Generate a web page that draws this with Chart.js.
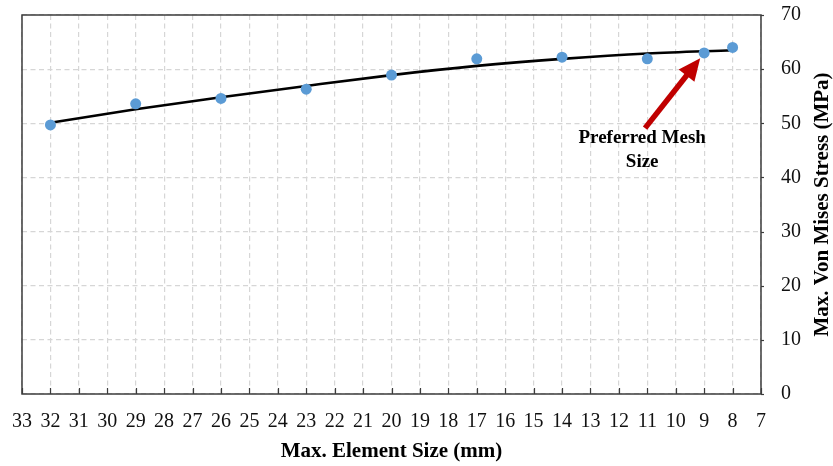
<!DOCTYPE html>
<html>
<head>
<meta charset="utf-8">
<script src="https://cdn.jsdelivr.net/npm/chart.js@4/dist/chart.umd.min.js"></script>
<style>
  html, body { margin: 0; padding: 0; background: #ffffff; }
  #wrap { width: 833px; height: 466px; }
</style>
</head>
<body>
<div id="wrap"><canvas id="c" width="833" height="466"></canvas></div>
<script>
// Mesh convergence study: peak stress against maximum element size
const elementSizes = [32, 29, 26, 23, 20, 17, 14, 11, 9, 8];
const vonMisesStress = [49.7, 53.6, 54.6, 56.3, 58.9, 61.9, 62.2, 61.9, 63.0, 64.0];

// Fitted trend curve, sampled along the x range
const trendSizes = [32, 29, 26, 23, 20, 17, 14, 11, 8];
const trendStress = [50.1, 52.6, 54.8, 56.9, 58.9, 60.6, 61.9, 62.9, 63.5];

// Axis ranges and labels
const xMin = 7, xMax = 33, xStep = 1;
const yMin = 0, yMax = 70, yStep = 10;
const xTitle = 'Max. Element Size (mm)';
const yTitle = 'Max. Von Mises Stress (MPa)';

// Callout pointing at the chosen mesh
const calloutLines = ['Preferred Mesh', 'Size'];
const calloutTextAt = [{ x: 11.18, y: 47.3 }, { x: 11.18, y: 42.85 }];
const arrowFrom = { x: 11.08, y: 49.1 };
const arrowTo = { x: 9.14, y: 62.0 };

const SERIF = '"Liberation Serif", "Times New Roman", Times, serif';

const toXY = (xs, ys) => xs.map((x, i) => ({ x: x, y: ys[i] }));

const frameAndNotes = {
  id: 'frameAndNotes',
  afterDraw(chart) {
    const { ctx, chartArea: a, scales } = chart;
    const xs = scales.x, ys = scales.y;
    ctx.save();

    // plot frame
    ctx.strokeStyle = '#3c3c3c';
    ctx.lineWidth = 1.5;
    ctx.strokeRect(a.left, a.top, a.right - a.left, a.bottom - a.top);

    // inner tick marks on the x axis
    ctx.lineWidth = 1.2;
    xs.ticks.forEach(t => {
      const px = Math.round(xs.getPixelForValue(t.value)) + 0.5;
      ctx.beginPath();
      ctx.moveTo(px, a.bottom);
      ctx.lineTo(px, a.bottom - 6);
      ctx.stroke();
    });
    // small outer tick marks on the right axis
    ys.ticks.forEach(t => {
      const py = Math.round(ys.getPixelForValue(t.value)) + 0.5;
      ctx.beginPath();
      ctx.moveTo(a.right, py);
      ctx.lineTo(a.right + 3, py);
      ctx.stroke();
    });

    // rotated y title on the right
    ctx.fillStyle = '#000000';
    ctx.font = 'bold 21px ' + SERIF;
    ctx.textAlign = 'center';
    ctx.textBaseline = 'middle';
    ctx.translate(823, (a.top + a.bottom) / 2);
    ctx.rotate(-Math.PI / 2);
    ctx.fillText(yTitle, 0, 0);
    ctx.setTransform(1, 0, 0, 1, 0, 0);

    // arrow
    const x0 = xs.getPixelForValue(arrowFrom.x), y0 = ys.getPixelForValue(arrowFrom.y);
    const x1 = xs.getPixelForValue(arrowTo.x), y1 = ys.getPixelForValue(arrowTo.y);
    const ang = Math.atan2(y1 - y0, x1 - x0);
    const headLen = 22, headHalf = 10;
    const bx = x1 - headLen * Math.cos(ang), by = y1 - headLen * Math.sin(ang);
    ctx.strokeStyle = '#C00000';
    ctx.fillStyle = '#C00000';
    ctx.lineWidth = 5.5;
    ctx.lineCap = 'butt';
    ctx.beginPath();
    ctx.moveTo(x0, y0);
    ctx.lineTo(bx + Math.cos(ang) * 2, by + Math.sin(ang) * 2);
    ctx.stroke();
    ctx.beginPath();
    ctx.moveTo(x1, y1);
    ctx.lineTo(bx + headHalf * Math.sin(ang), by - headHalf * Math.cos(ang));
    ctx.lineTo(bx - headHalf * Math.sin(ang), by + headHalf * Math.cos(ang));
    ctx.closePath();
    ctx.fill();

    // callout text
    ctx.fillStyle = '#000000';
    ctx.font = 'bold 19px ' + SERIF;
    ctx.textAlign = 'center';
    ctx.textBaseline = 'middle';
    calloutLines.forEach((line, i) => {
      ctx.fillText(line, xs.getPixelForValue(calloutTextAt[i].x), ys.getPixelForValue(calloutTextAt[i].y));
    });

    ctx.restore();
  }
};

const whiteBackground = {
  id: 'whiteBackground',
  beforeDraw(chart) {
    const ctx = chart.ctx;
    ctx.save();
    ctx.fillStyle = '#ffffff';
    ctx.fillRect(0, 0, chart.width, chart.height);
    ctx.restore();
  }
};

new Chart(document.getElementById('c'), {
  type: 'scatter',
  data: {
    datasets: [
      {
        label: 'Stress',
        data: toXY(elementSizes, vonMisesStress),
        backgroundColor: '#5B9BD5',
        borderColor: '#5B9BD5',
        pointRadius: 5.5,
        borderWidth: 0
      },
      {
        label: 'Trend',
        data: toXY(trendSizes, trendStress),
        showLine: true,
        borderColor: '#000000',
        borderWidth: 2.6,
        pointRadius: 0,
        fill: false,
        cubicInterpolationMode: 'monotone'
      }
    ]
  },
  options: {
    responsive: false,
    animation: false,
    devicePixelRatio: 1,
    layout: { padding: { left: 22, top: 15, right: 0, bottom: 0 } },
    plugins: { legend: { display: false }, tooltip: { enabled: false } },
    scales: {
      x: {
        type: 'linear',
        position: 'bottom',
        reverse: true,
        min: xMin,
        max: xMax,
        grid: { color: '#d6d6d6', lineWidth: 1.2, drawTicks: false, tickLength: 0 },
        border: { display: false, dash: [5, 3.5] },
        ticks: {
          stepSize: xStep,
          autoSkip: false,
          maxRotation: 0,
          padding: 16,
          color: '#111111',
          font: { family: SERIF, size: 20 }
        },
        title: {
          display: true,
          text: xTitle,
          color: '#000000',
          font: { family: SERIF, size: 21, weight: 'bold' },
          padding: { top: 0, bottom: 2 }
        },
        afterFit(s) {
          s.height = 72;
          s.paddingLeft = 0; s.paddingRight = 0; s.paddingTop = 0; s.paddingBottom = 0;
        }
      },
      y: {
        type: 'linear',
        position: 'right',
        min: yMin,
        max: yMax,
        grid: { color: '#d6d6d6', lineWidth: 1.2, drawTicks: false, tickLength: 0 },
        border: { display: false, dash: [5, 3.5] },
        ticks: {
          stepSize: yStep,
          padding: 20,
          color: '#111111',
          font: { family: SERIF, size: 20 }
        },
        afterFit(s) {
          s.width = 72;
          s.paddingLeft = 0; s.paddingRight = 0; s.paddingTop = 0; s.paddingBottom = 0;
        }
      }
    }
  },
  plugins: [whiteBackground, frameAndNotes]
});
</script>
</body>
</html>
